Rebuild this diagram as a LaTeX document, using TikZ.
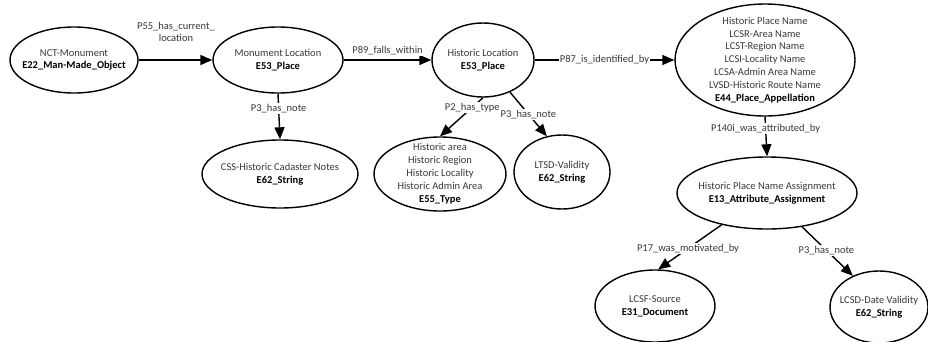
\documentclass[tikz,border=0pt]{standalone}
\usepackage{fontspec}
\setmainfont{Carlito}
\usetikzlibrary{shapes.geometric,arrows.meta}

\tikzset{
  ent/.style={ellipse, draw=black, line width=1.4pt, inner sep=0pt},
  txt/.style={align=center, font=\fontsize{10.5}{12.9}\selectfont, text=black!78},
  rel/.style={line width=1.4pt, -{Triangle[length=12pt,width=10pt]}},
  lbl/.style={fill=white, inner sep=1pt, align=center,
              font=\fontsize{10.5}{12}\selectfont, text=black!78},
}
\newcommand{\cls}[1]{\\\textcolor{black}{\textbf{#1}}}

\begin{document}
\begin{tikzpicture}[x=1pt,y=-1pt]
\useasboundingbox (0,0) rectangle (928,341);

% entities
\node[ent, minimum width=128pt, minimum height=66pt] (nct)  at (74,60)  {};
\node[ent, minimum width=130pt, minimum height=66pt] (mloc) at (278,60) {};
\node[ent, minimum width=102pt, minimum height=74pt] (hloc) at (483,60) {};
\node[ent, minimum width=180pt, minimum height=112pt] (app) at (765,60) {};
\node[ent, minimum width=156pt, minimum height=68pt] (css)  at (280,174) {};
\node[ent, minimum width=132pt, minimum height=74pt] (typ)  at (440,174) {};
\node[ent, minimum width=96pt,  minimum height=74pt] (ltsd) at (562,172) {};
\node[ent, minimum width=180pt, minimum height=72pt] (asg)  at (767,193) {};
\node[ent, minimum width=120pt, minimum height=72pt] (src)  at (655,306) {};
\node[ent, minimum width=98pt,  minimum height=72pt] (date) at (879,307) {};

% entity texts
\node[txt] (tnct)  at (nct)  {NCT-Monument\cls{E22\_Man-Made\_Object}};
\node[txt] (tmloc) at (mloc) {Monument Location\cls{E53\_Place}};
\node[txt] (thloc) at (hloc) {Historic Location\cls{E53\_Place}};
\node[txt] (tapp)  at (app)  {Historic Place Name\\LCSR-Area Name\\LCST-Region Name\\LCSI-Locality Name\\LCSA-Admin Area Name\\LVSD-Historic Route Name\cls{E44\_Place\_Appellation}};
\node[txt] (tcss)  at (css)  {CSS-Historic Cadaster Notes\cls{E62\_String}};
\node[txt] (ttyp)  at (typ)  {Historic area\\Historic Region\\Historic Locality\\Historic Admin Area\cls{E55\_Type}};
\node[txt] (tltsd) at (ltsd) {LTSD-Validity\cls{E62\_String}};
\node[txt] (tasg)  at (asg)  {Historic Place Name Assignment\cls{E13\_Attribute\_Assignment}};
\node[txt] (tsrc)  at (src)  {LCSF-Source\cls{E31\_Document}};
\node[txt] (tdate) at (date) {LCSD-Date Validity\cls{E62\_String}};

% properties
\draw[rel] (nct) -- (mloc);
\node[lbl] (p55) at (176,32) {P55\_has\_current\_\\location};
\draw[rel] (mloc) -- node[lbl, above=3pt] (p89) {P89\_falls\_within} (hloc);
\draw[rel] (hloc) -- node[lbl] (p87) {P87\_is\_identified\_by} (app);
\draw[rel] (mloc.south) -- node[lbl, pos=0.32] (p3a) {P3\_has\_note} (css.north);
\draw[rel] (hloc.south) -- node[lbl, pos=0.25] (p2) {P2\_has\_type} (typ.north);
\draw[rel] (hloc.-50) -- node[lbl, pos=0.5] (p3b) {P3\_has\_note} (ltsd.113);
\draw[rel] (app.south) -- node[lbl, pos=0.3] (p140) {P140i\_was\_attributed\_by} (asg.north);
\draw[rel] (asg.-145) -- node[lbl, pos=0.53] (p17) {P17\_was\_motivated\_by} (src.85);
\draw[rel] (asg.-44) -- node[lbl, pos=0.48] (p3c) {P3\_has\_note} (date.130);
\end{tikzpicture}
\end{document}
